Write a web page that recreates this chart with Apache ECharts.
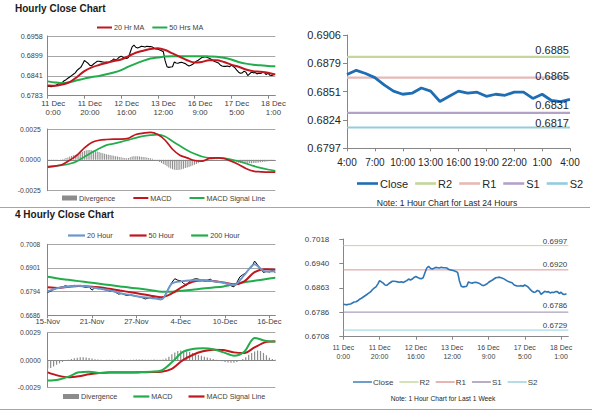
<!DOCTYPE html>
<html><head><meta charset="utf-8">
<script src="https://cdn.jsdelivr.net/npm/echarts@6/dist/echarts.min.js"></script>
<style>
html,body{margin:0;padding:0;background:#fff;width:600px;height:413px;overflow:hidden;}
.layer{position:absolute;left:0;top:0;width:600px;height:413px;}
</style></head><body>
<div id="a" class="layer"></div>
<div id="b" class="layer"></div>
<div id="c" class="layer"></div>
<div id="d" class="layer"></div>
<script>
// ================= DATA =================
// ---- Hourly chart (last week, hours 0..123 from 11 Dec 0:00) ----
const hourTickLabels = ['11 Dec\n0:00','11 Dec\n20:00','12 Dec\n16:00','13 Dec\n12:00','16 Dec\n9:00','17 Dec\n5:00','18 Dec\n1:00'];
const hourTickStep = 20;
const hourSpan = 124;
const closeHourly = [
0.6811,0.6810,0.6809,0.6811,0.6812,0.6815,0.6818,0.6819,0.6822,0.6827,
0.6830,0.6834,0.6838,0.6842,0.6846,0.6850,0.6857,0.6862,0.6866,0.6875,
0.6886,0.6882,0.6878,0.6872,0.6871,0.6876,0.6880,0.6884,0.6884,0.6883,
0.6882,0.6881,0.6882,0.6880,0.6883,0.6886,0.6891,0.6888,0.6891,0.6896,
0.6899,0.6896,0.6893,0.6892,0.6895,0.6911,0.6926,0.6931,0.6925,0.6923,
0.6925,0.6928,0.6927,0.6926,0.6928,0.6927,0.6927,0.6926,0.6922,0.6920,
0.6919,0.6917,0.6915,0.6912,0.6885,0.6868,0.6866,0.6867,0.6868,0.6882,
0.6879,0.6878,0.6880,0.6881,0.6879,0.6877,0.6873,0.6870,0.6872,0.6875,
0.6880,0.6884,0.6887,0.6891,0.6895,0.6896,0.6897,0.6895,0.6893,0.6890,
0.6886,0.6883,0.6881,0.6879,0.6873,0.6870,0.6869,0.6869,0.6870,
0.6868,0.6872,0.6869,0.6865,0.6858,0.6852,0.6849,0.6850,0.6855,0.6852,
0.6842,0.6847,0.6852,0.6850,0.6851,0.6847,0.6849,0.6848,0.6851,0.6851,
0.6845,0.6849,0.6843,0.6842,0.6844];
const maStepHr = 4;
const ma20Hr = [0.6813,0.6812,0.6816,0.6823,0.6838,0.6855,0.6866,0.6873,0.6879,0.6885,0.6889,0.6899,0.6909,0.6915,0.6920,0.6922,
0.6917,0.6907,0.6897,0.6887,0.6880,0.6882,0.6887,0.6887,0.6882,0.6874,0.6868,0.6860,0.6855,0.6853,0.6850,0.6845];
const ma50Hr = [0.6825,0.6822,0.6820,0.6823,0.6828,0.6833,0.6838,0.6841,0.6846,0.6851,0.6858,0.6868,0.6877,0.6885,0.6892,0.6895,
0.6898,0.6899,0.6899,0.6899,0.6899,0.6899,0.6898,0.6897,0.6894,0.6889,0.6882,0.6877,0.6874,0.6872,0.6870,0.6869];
const macdHr = [-0.00059,-0.00051,-0.00038,-0.00003,0.00038,0.00097,0.00141,0.00159,0.00165,0.00168,0.00168,0.00175,0.00205,0.00216,0.00222,0.00205,
0.00159,0.00086,0.00038,0.00016,-0.00005,-0.00011,0.00012,0.00016,0.00011,-0.00011,-0.00038,-0.00070,-0.00092,-0.00097,-0.00100,-0.00100];
const signalHr = [-0.00054,-0.00049,-0.00043,-0.00032,-0.00011,0.00024,0.00059,0.00092,0.00119,0.00132,0.00146,0.00162,0.00178,0.00192,0.00200,0.00205,
0.00190,0.00151,0.00114,0.00078,0.00049,0.00027,0.00016,0.00016,0.00014,0.00003,-0.00011,-0.00030,-0.00049,-0.00065,-0.00078,-0.00089];
const divergenceHr = [
-0.00006,-0.00005,-0.00004,-0.00003,-0.00002,-0.00001,0.00001,0.00003,
0.00005,0.00009,0.00014,0.00020,0.00027,0.00032,0.00037,0.00042,
0.00048,0.00053,0.00058,0.00064,0.00072,0.00078,0.00080,0.00079,
0.00077,0.00074,0.00070,0.00067,0.00063,0.00058,0.00053,0.00049,
0.00045,0.00042,0.00039,0.00036,0.00033,0.00030,0.00027,0.00024,
0.00021,0.00018,0.00015,0.00013,0.00016,0.00022,0.00027,0.00029,
0.00030,0.00029,0.00027,0.00025,0.00024,0.00022,0.00020,0.00016,
0.00012,0.00008,0.00003,-0.00003,-0.00010,-0.00018,-0.00026,-0.00034,
-0.00042,-0.00052,-0.00062,-0.00070,-0.00076,-0.00080,-0.00082,-0.00082,
-0.00080,-0.00076,-0.00072,-0.00067,-0.00062,-0.00057,-0.00052,-0.00046,
-0.00040,-0.00034,-0.00027,-0.00020,-0.00013,-0.00007,-0.00002,0.00002,
0.00003,0.00004,0.00004,0.00003,0.00002,0.00001,0.00000,-0.00002,
-0.00004,-0.00006,-0.00009,-0.00012,-0.00015,-0.00018,-0.00020,-0.00022,
-0.00024,-0.00026,-0.00027,-0.00028,-0.00029,-0.00029,-0.00028,-0.00027,
-0.00026,-0.00025,-0.00024,-0.00022,-0.00020,-0.00018,-0.00016,-0.00014,
-0.00012,-0.00010,-0.00009,-0.00008];
const hourYTicks = ['0.6783','0.6841','0.6899','0.6958'];
const hourMacdTicks = ['-0.0025','0.0000','0.0025'];

// ---- Last 24 hours ----
const dayStart = 99; // 17 Dec 4:00 within closeHourly
const dayTickLabels = ['4:00','7:00','10:00','13:00','16:00','19:00','22:00','1:00','4:00'];
const dayTickStep = 3;
const dayYTicks = ['0.6797','0.6824','0.6851','0.6879','0.6906'];
const levelNames = ['R2','R1','S1','S2'];
const dayLevels = [0.6885,0.6865,0.6831,0.6817];
// ---- Last week ----
const weekLevels = [0.6997,0.6920,0.6786,0.6729];
const weekYTicks = ['0.6708','0.6786','0.6863','0.6940','0.7018'];

// ---- 4 hourly chart (bars 0..154 from 15-Nov) ----
const fourTickLabels = ['15-Nov','21-Nov','27-Nov','4-Dec','10-Dec','16-Dec'];
const fourTickStep = 30;
const fourSpan = 154;
const closeStep4 = 2;
const close4h = [
0.6790,0.6795,0.6803,0.6808,0.6812,0.6815,0.6820,0.6816,0.6818,0.6822,
0.6818,0.6822,0.6816,0.6812,0.6814,0.6800,0.6812,0.6806,0.6808,0.6803,
0.6800,0.6796,0.6798,0.6790,0.6782,0.6785,0.6779,0.6776,0.6780,0.6775,
0.6772,0.6770,0.6766,0.6760,0.6764,0.6768,0.6765,0.6762,0.6756,0.6762,
0.6785,0.6812,0.6835,0.6852,0.6845,0.6843,0.6830,0.6822,0.6840,0.6848,
0.6852,0.6850,0.6846,0.6842,0.6845,0.6850,0.6840,0.6838,0.6836,0.6835,
0.6832,0.6828,0.6820,0.6815,0.6835,0.6860,0.6870,0.6878,0.6895,0.6905,
0.6932,0.6915,0.6895,0.6880,0.6885,0.6882,0.6890,0.6880];
const maStep4 = 7;
const ma20_4h = [0.6795,0.6810,0.6817,0.6820,0.6814,0.6807,0.6799,0.6786,0.6778,0.6769,0.6765,0.6759,
0.6830,0.6841,0.6845,0.6846,0.6840,0.6834,0.6823,0.6868,0.6918,0.6885,0.6886];
const ma50_4h = [0.6813,0.6810,0.6815,0.6819,0.6817,0.6813,0.6806,0.6798,0.6791,0.6783,0.6775,0.6768,
0.6785,0.6815,0.6838,0.6844,0.6842,0.6835,0.6826,0.6840,0.6882,0.6895,0.6893];
const ma200_4h = [0.6861,0.6853,0.6847,0.6841,0.6835,0.6829,0.6823,0.6817,0.6811,0.6806,0.6800,0.6793,
0.6793,0.6797,0.6802,0.6808,0.6812,0.6817,0.6826,0.6836,0.6843,0.6850,0.6856];
const macd4h = [-0.00219,-0.00209,-0.00177,-0.00131,-0.00124,-0.00138,-0.00131,-0.00131,-0.00131,-0.00127,-0.00124,-0.00112,
-0.00025,0.00081,0.00117,0.00124,0.00115,0.00081,0.00046,0.00088,0.00235,0.00205,0.00195];
const signal4h = [-0.00131,-0.00166,-0.00184,-0.00173,-0.00152,-0.00138,-0.00134,-0.00134,-0.00134,-0.00131,-0.00127,-0.00124,
-0.00095,-0.00007,0.00053,0.00092,0.00110,0.00106,0.00081,0.00074,0.00134,0.00187,0.00198];
const divStep4 = 2;
const divergence4h = [
-0.00090,-0.00085,-0.00070,-0.00050,-0.00035,-0.00020,-0.00008,0.00002,0.00010,0.00018,
0.00024,0.00028,0.00030,0.00027,0.00022,0.00015,0.00008,0.00004,0.00002,0.00001,
0.00002,0.00003,0.00002,0.00001,0.00002,0.00003,0.00002,0.00001,0.00002,0.00003,
0.00004,0.00005,0.00004,0.00003,0.00002,0.00003,0.00004,0.00003,0.00002,0.00005,
0.00015,0.00035,0.00060,0.00080,0.00095,0.00100,0.00098,0.00092,0.00085,0.00075,
0.00065,0.00055,0.00045,0.00035,0.00027,0.00018,0.00010,0.00002,-0.00006,-0.00014,
-0.00020,-0.00026,-0.00030,-0.00028,-0.00020,-0.00008,0.00010,0.00030,0.00055,0.00075,
0.00090,0.00100,0.00095,0.00075,0.00050,0.00025,0.00010,0.00003];
const fourYTicks = ['0.6686','0.6794','0.6901','0.7008'];
const fourMacdTicks = ['-0.0029','0.0000','0.0029'];

// ================= STYLE =================
const FONT = "'Liberation Sans', Arial, Helvetica, sans-serif";
const TXT = '#404040';
const RED = '#c0171e', GREEN = '#22ac4c', BLUE4 = '#6d96cb', GRAY_AX = '#868686';
const dayLevelColors = ['#c3d69b','#e6b9b8','#b3a2c7','#93cddd'];
const weekLevelColors = ['#c3d69b','#d99694','#9a8aa8','#93cddd'];
const dayLabelLift = [1, -4, 2.5, -1];
const weekLabelLift = [0, 1, 2.5, 1];

const pairs = (arr, step, start) => arr.map((v, i) => [(start || 0) + i * step, v]);
const lineIcon = (w, h) => 'path://M0,0H' + w + 'V' + h + 'H0Z';

function fixedY(gi, labels, min, max, o) {
  const step = (max - min) / (labels.length - 1);
  return {
    type: 'value', gridIndex: gi, min: min, max: max, interval: step,
    axisLine: { show: true, lineStyle: { color: GRAY_AX, width: 1 } },
    axisTick: { show: !!o.tick, length: 4, lineStyle: { color: GRAY_AX } },
    splitLine: { show: !!o.split, lineStyle: { color: '#a6a6a6', width: 1 } },
    axisLabel: { formatter: v => labels[Math.round((v - min) / step)] || '', fontSize: o.fs, color: o.color || TXT, fontFamily: FONT, margin: o.margin }
  };
}
function tickX(gi, labels, step, span, o) {
  const vals = labels.map((_, i) => i * step);
  return {
    type: 'value', gridIndex: gi, min: 0, max: span,
    axisLine: { show: true, onZero: !!o.onZero, lineStyle: { color: GRAY_AX } },
    axisTick: { show: o.tick !== false, customValues: vals, length: 3, lineStyle: { color: GRAY_AX } },
    splitLine: { show: false },
    axisLabel: { show: o.labels !== false, customValues: vals, formatter: v => labels[Math.round(v / step)] || '',
      fontSize: o.fs, color: o.color || TXT, fontFamily: FONT, margin: o.margin, lineHeight: o.lh, padding: o.pad || 0 }
  };
}
function lineS(name, xi, data, color, width, extra) {
  return Object.assign({ name: name, type: 'line', xAxisIndex: xi, yAxisIndex: xi, data: data, symbol: 'none',
    lineStyle: { color: color, width: width }, itemStyle: { color: color }, silent: true, animation: false }, extra || {});
}
function levelS(name, span, value, color, width, lift, fs) {
  return lineS(name, 0, [[0, value], [span, value]], color, width, {
    endLabel: { show: true, formatter: value.toFixed(4), align: 'right', verticalAlign: 'bottom', distance: 0,
      offset: [-1, -lift], fontSize: fs, color: fs > 9 ? '#262626' : TXT, fontFamily: FONT }
  });
}
function legendAt(left, top, items, o) {
  return Object.assign({ left: left, top: top, padding: 0, itemWidth: 15, itemHeight: 5, itemGap: 17, data: items,
    selectedMode: false, icon: lineIcon(15, 2),
    textStyle: { fontSize: 7.2, color: TXT, fontFamily: FONT, padding: [0, 0, 0, -3] } }, o || {});
}
const divItem = { name: 'Divergence', icon: 'rect' };

// ================= PANELS 1 & 2 =================
const chartA = echarts.init(document.getElementById('a'), null, { renderer: 'svg', width: 600, height: 413 });
chartA.setOption({
  animation: false,
  grid: [
    { left: 47.7, top: 36, width: 227.6, height: 59.7 },
    { left: 47.7, top: 129, width: 227.6, height: 61.7 }
  ],
  xAxis: [
    tickX(0, hourTickLabels, hourTickStep, hourSpan, { fs: 7.8, margin: 3, lh: 9, pad: [0, 0, 0, 11] }),
    tickX(1, hourTickLabels, hourTickStep, hourSpan, { labels: false, tick: false, onZero: true })
  ],
  yAxis: [
    fixedY(0, hourYTicks, 0.6783, 0.6958, { fs: 7.2, margin: 5, split: true }),
    fixedY(1, hourMacdTicks, -0.0025, 0.0025, { fs: 6.8, margin: 7, split: true })
  ],
  legend: [
    legendAt(97, 24, ['20 Hr MA', '50 Hrs MA'], { itemGap: 8 }),
    legendAt(62, 194.5, [divItem, 'MACD', 'MACD Signal Line'], { itemGap: 18 })
  ],
  series: [
    lineS('Close', 0, pairs(closeHourly, 1), '#000000', 1.1),
    lineS('50 Hrs MA', 0, pairs(ma50Hr, maStepHr), GREEN, 2, { smooth: 0.3 }),
    lineS('20 Hr MA', 0, pairs(ma20Hr, maStepHr), RED, 2, { smooth: 0.3 }),
    { name: 'Divergence', type: 'bar', xAxisIndex: 1, yAxisIndex: 1, data: pairs(divergenceHr, 1), barWidth: 1,
      itemStyle: { color: '#8c8c8c' }, silent: true },
    lineS('MACD Signal Line', 1, pairs(signalHr, maStepHr), GREEN, 1.7, { smooth: 0.3 }),
    lineS('MACD', 1, pairs(macdHr, maStepHr), RED, 1.7, { smooth: 0.3 })
  ],
  graphic: [
    { type: 'text', left: 15, top: 3, style: { text: 'Hourly Close Chart', fontSize: 10, fontWeight: 'bold', fontFamily: FONT, fill: '#1a1a1a' } },
    { type: 'line', shape: { x1: 0, y1: 207.5, x2: 590, y2: 207.5 }, style: { stroke: '#a6a6a6', lineWidth: 1 } },
    { type: 'text', left: 15, top: 209.5, style: { text: '4 Hourly Close Chart', fontSize: 10, fontWeight: 'bold', fontFamily: FONT, fill: '#1a1a1a' } },
    { type: 'line', shape: { x1: 0, y1: 409.5, x2: 592, y2: 409.5 }, style: { stroke: '#a6a6a6', lineWidth: 1 } }
  ]
});

// ================= PANEL 3 (last 24 hours) =================
const chartB = echarts.init(document.getElementById('b'), null, { renderer: 'svg', width: 600, height: 413 });
const daySpan = (dayTickLabels.length - 1) * dayTickStep;
chartB.setOption({
  animation: false,
  grid: { left: 347, top: 35, width: 223, height: 113.3 },
  xAxis: tickX(0, dayTickLabels, dayTickStep, daySpan, { fs: 10, color: '#262626', margin: 9 }),
  yAxis: fixedY(0, dayYTicks, 0.6797, 0.6906, { fs: 11, color: '#262626', margin: 6, tick: true }),
  legend: legendAt(357, 178, ['Close'].concat(levelNames), { itemWidth: 21, itemHeight: 8, itemGap: 7, icon: lineIcon(21, 2.6),
    textStyle: { fontSize: 11, color: '#262626', fontFamily: FONT, padding: [0, 0, 0, -3] } }),
  series: levelNames.map((nm, i) => levelS(nm, daySpan, dayLevels[i], dayLevelColors[i], 2.2, dayLabelLift[i], 11))
    .concat([lineS('Close', 0, pairs(closeHourly.slice(dayStart), 1), '#1f6db3', 2.8)]),
  graphic: [
    { type: 'text', x: 447, y: 203, style: { text: 'Note: 1 Hour Chart for Last 24 Hours', fontSize: 8.6, fontFamily: FONT,
      fill: '#262626', align: 'center', verticalAlign: 'middle' } }
  ]
});

// ================= PANELS 4 & 5 =================
const chartC = echarts.init(document.getElementById('c'), null, { renderer: 'svg', width: 600, height: 413 });
chartC.setOption({
  animation: false,
  grid: [
    { left: 47.7, top: 244.3, width: 227.6, height: 71 },
    { left: 47.7, top: 332.7, width: 227.6, height: 54.6 }
  ],
  xAxis: [
    tickX(0, fourTickLabels, fourTickStep, fourSpan, { fs: 7.6, margin: 2 }),
    tickX(1, fourTickLabels, fourTickStep, fourSpan, { labels: false, tick: false, onZero: true })
  ],
  yAxis: [
    fixedY(0, fourYTicks, 0.6686, 0.7008, { fs: 6.5, margin: 7.5, split: true }),
    fixedY(1, fourMacdTicks, -0.0029, 0.0029, { fs: 6.8, margin: 7, split: true })
  ],
  legend: [
    legendAt(68, 232, ['20 Hour', '50 Hour', '200 Hour'], { itemWidth: 17, itemGap: 17, icon: lineIcon(17, 2.2) }),
    legendAt(63, 393, [divItem, 'MACD', 'MACD Signal Line'], { itemWidth: 16, itemGap: 16, icon: lineIcon(16, 2.2) })
  ],
  series: [
    lineS('Close', 0, pairs(close4h, closeStep4), '#000000', 1),
    lineS('200 Hour', 0, pairs(ma200_4h, maStep4), GREEN, 2, { smooth: 0.3 }),
    lineS('50 Hour', 0, pairs(ma50_4h, maStep4), RED, 2, { smooth: 0.3 }),
    lineS('20 Hour', 0, pairs(ma20_4h, maStep4), BLUE4, 2, { smooth: 0.3 }),
    { name: 'Divergence', type: 'bar', xAxisIndex: 1, yAxisIndex: 1, data: pairs(divergence4h, divStep4), barWidth: 1.2,
      itemStyle: { color: '#8c8c8c' }, silent: true },
    lineS('MACD Signal Line', 1, pairs(signal4h, maStep4), RED, 2, { smooth: 0.3 }),
    lineS('MACD', 1, pairs(macd4h, maStep4), GREEN, 2, { smooth: 0.3 })
  ]
});

// ================= PANEL 6 (last week) =================
const chartD = echarts.init(document.getElementById('d'), null, { renderer: 'svg', width: 600, height: 413 });
chartD.setOption({
  animation: false,
  grid: { left: 343.3, top: 239, width: 225, height: 97.7 },
  xAxis: tickX(0, hourTickLabels, hourTickStep, hourSpan, { fs: 7, margin: 6, lh: 9 }),
  yAxis: fixedY(0, weekYTicks, 0.6708, 0.7018, { fs: 8, margin: 14, tick: true }),
  legend: legendAt(353, 378, ['Close'].concat(levelNames), { itemWidth: 19, itemHeight: 6, itemGap: 6, icon: lineIcon(19, 1.4),
    textStyle: { fontSize: 8, color: TXT, fontFamily: FONT, padding: [0, 0, 0, -4] } }),
  series: levelNames.map((nm, i) => levelS(nm, hourSpan, weekLevels[i], weekLevelColors[i], 1, weekLabelLift[i], 8))
    .concat([lineS('Close', 0, pairs(closeHourly, 1), '#2e75b6', 1.6)]),
  graphic: [
    { type: 'text', x: 443, y: 398.5, style: { text: 'Note: 1 Hour Chart for Last 1 Week', fontSize: 6.7, fontFamily: FONT,
      fill: '#262626', align: 'center', verticalAlign: 'middle' } }
  ]
});
</script>
</body></html>
